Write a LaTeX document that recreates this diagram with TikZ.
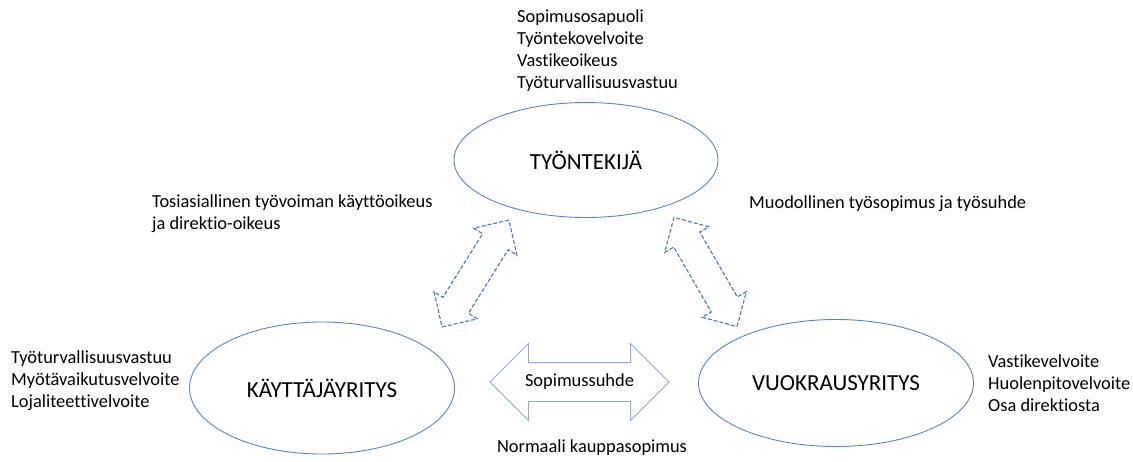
\documentclass[tikz,border=0pt]{standalone}
\usepackage{fontspec}
\setmainfont{Carlito}[Ligatures=NoCommon]
\usetikzlibrary{shapes.geometric,shapes.arrows}
\definecolor{ellblue}{HTML}{5B84BA}
\definecolor{dashblue}{HTML}{4A78AD}
\definecolor{lightblue}{HTML}{8EAAD6}

\begin{document}
\begin{tikzpicture}[x=1pt,y=-1pt,
  osapuoli/.style={ellipse, draw=ellblue, line width=0.9pt, inner sep=0pt, font=\fontsize{23}{27}\selectfont},
  lista/.style={inner sep=0pt, align=left, font=\fontsize{18.4}{22}\selectfont},
  katkonuoli/.style={double arrow, draw=dashblue, line width=1.1pt, dash pattern=on 4pt off 2pt,
    inner xsep=0pt, inner ysep=14.5pt, text height=0pt, text depth=0pt,
    minimum height=126, double arrow head extend=10.5},
  sopnuoli/.style={double arrow, draw=lightblue, line width=0.9pt, inner xsep=0pt, inner ysep=10.5pt,
    text height=13pt, text depth=4pt, minimum height=179, double arrow head extend=19,
    font=\fontsize{18.4}{22}\selectfont}]
\useasboundingbox (0,0) rectangle (1133,461);
\node[osapuoli, minimum width=264, minimum height=115] (tyontekija) at (586,160) {TYÖNTEKIJÄ};
\node[osapuoli, minimum width=265, minimum height=132] (kayttaja) at (322,388) {KÄYTTÄJÄYRITYS};
\node[osapuoli, minimum width=275, minimum height=127] (vuokraus) at (836,383) {VUOKRAUSYRITYS};
\node[lista, anchor=west] (tyoLista) at (517,51) {Sopimusosapuoli\\Työntekovelvoite\\Vastikeoikeus\\Työturvallisuusvastuu};
\node[lista, anchor=west] (kayLista) at (11,381) {Työturvallisuusvastuu\\Myötävaikutusvelvoite\\Lojaliteettivelvoite};
\node[lista, anchor=west] (vuoLista) at (988,383) {Vastikevelvoite\\Huolenpitovelvoite\\Osa direktiosta};
\node[lista, anchor=west] (tosiasia) at (152,214) {Tosiasiallinen työvoiman käyttöoikeus\\ja direktio-oikeus};
\node[lista, anchor=west] (muodoll) at (749,204) {Muodollinen työsopimus ja työsuhde};
\node[lista] (normaali) at (592,448) {Normaali kauppasopimus};
\node[katkonuoli, rotate=58] (nuoliVasen) at (475.5,273.5) {};
\node[katkonuoli, rotate=120] (nuoliOikea) at (705.5,272) {};
\node[sopnuoli] (sopimus) at (579.5,382) {Sopimussuhde};
\end{tikzpicture}
\end{document}
